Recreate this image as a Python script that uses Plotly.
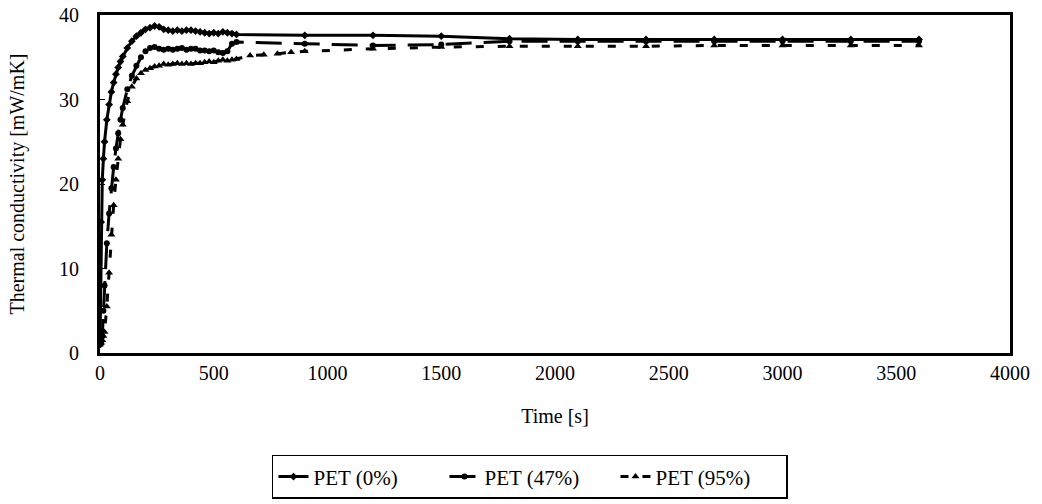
import plotly.graph_objects as go

# Sampling times [s]
time_main = [0, 5, 10, 15, 20, 30, 40, 50, 60, 70, 80, 90, 100, 120, 140, 160, 180, 200,
             220, 240, 260, 280, 300, 320, 340, 360, 380, 400, 420, 440, 460, 480, 500,
             520, 540, 560, 580, 600, 900, 1200, 1500, 1800, 2100, 2400, 2700, 3000,
             3300, 3600]
time_95 = [0, 5, 10, 15, 20, 30, 40, 50, 60, 70, 80, 90, 100, 120, 140, 160, 180, 200,
           220, 240, 260, 280, 300, 320, 340, 360, 380, 400, 420, 440, 460, 480, 500,
           520, 540, 560, 580, 600, 660, 720, 780, 840, 900, 1200, 1500, 1800, 2100,
           2400, 2700, 3000, 3300, 3600]

# Thermal conductivity [mW/mK]
pet_0 = [1.0, 15.5, 20.5, 23.0, 25.0, 27.6, 29.4, 30.9, 32.0, 33.0, 33.8, 34.5, 35.1,
         36.1, 36.9, 37.5, 37.9, 38.3, 38.5, 38.7, 38.6, 38.3, 38.2, 38.1, 38.2, 38.1,
         38.2, 38.2, 38.1, 38.0, 37.9, 37.8, 37.9, 37.8, 38.0, 37.9, 37.8, 37.7, 37.6,
         37.6, 37.5, 37.2, 37.1, 37.1, 37.1, 37.1, 37.1, 37.1]
pet_47 = [1.0, 1.2, 2.0, 5.0, 8.0, 13.0, 16.5, 19.5, 22.0, 24.2, 26.0, 27.6, 29.0,
          31.2, 32.8, 34.0, 35.0, 35.7, 36.1, 36.2, 36.0, 35.9, 36.0, 35.9, 36.0, 36.1,
          35.9, 36.0, 36.0, 35.8, 35.8, 35.7, 35.8, 35.6, 35.5, 35.7, 36.6, 36.8, 36.6,
          36.4, 36.5, 36.9, 36.9, 36.9, 36.9, 36.9, 36.9, 36.9]
pet_95 = [1.0, 1.2, 1.5, 2.0, 2.5, 5.5, 9.5, 14.0, 17.5, 20.5, 23.0, 25.3, 27.0,
          29.8, 31.5, 32.5, 33.1, 33.5, 33.7, 33.9, 34.0, 34.2, 34.1, 34.2, 34.3, 34.2,
          34.3, 34.2, 34.3, 34.3, 34.4, 34.5, 34.4, 34.6, 34.7, 34.6, 34.7, 34.8, 35.2,
          35.3, 35.4, 35.6, 35.7, 36.0, 36.2, 36.3, 36.3, 36.3, 36.4, 36.4, 36.4, 36.4]

x_ticks = [0, 500, 1000, 1500, 2000, 2500, 3000, 3500, 4000]
y_ticks = [0, 10, 20, 30, 40]

FONT = "Liberation Serif"

fig = go.Figure()
fig.add_trace(go.Scatter(
    x=time_main, y=pet_0, name="PET (0%)", mode="lines+markers",
    line=dict(color="black", width=3),
    marker=dict(symbol="diamond", size=6, color="black"),
))
fig.add_trace(go.Scatter(
    x=time_main, y=pet_47, name="PET (47%)", mode="lines+markers",
    line=dict(color="black", width=3, dash="26px,12px"),
    marker=dict(symbol="circle", size=6, color="black"),
))
fig.add_trace(go.Scatter(
    x=time_95, y=pet_95, name="PET (95%)", mode="lines+markers",
    line=dict(color="black", width=3, dash="8px,14px"),
    marker=dict(symbol="triangle-up", size=7, color="black"),
))

fig.update_layout(
    width=1042, height=504,
    margin=dict(l=100, r=32, t=15, b=151, autoexpand=False),
    paper_bgcolor="white", plot_bgcolor="white",
    font=dict(family=FONT, size=20, color="black"),
    showlegend=True,
    legend=dict(
        orientation="h", x=0.4725, xanchor="center",
        yref="container", y=0.01, yanchor="bottom",
        bordercolor="black", borderwidth=1.5, bgcolor="white",
        font=dict(family=FONT, size=21, color="black"),
        entrywidth=126, tracegroupgap=0,
    ),
)
fig.update_xaxes(
    range=[0, 4000], tickvals=x_ticks, ticktext=[str(v) for v in x_ticks],
    showgrid=False, zeroline=False, showline=True, linecolor="black", linewidth=3,
    mirror=True, ticks="", ticklen=0,
    title=dict(text="Time [s]", font=dict(family=FONT, size=20), standoff=26),
)
fig.update_yaxes(
    range=[0, 40], tickvals=y_ticks, ticktext=[str(v) for v in y_ticks],
    showgrid=False, zeroline=False, showline=True, linecolor="black", linewidth=3,
    mirror=True, ticks="inside", ticklen=5, tickwidth=1, tickcolor="black",
    ticklabelstandoff=14,
    title=dict(text="Thermal conductivity [mW/mK]", font=dict(family=FONT, size=20),
               standoff=30),
)

fig.write_html("out.html")
